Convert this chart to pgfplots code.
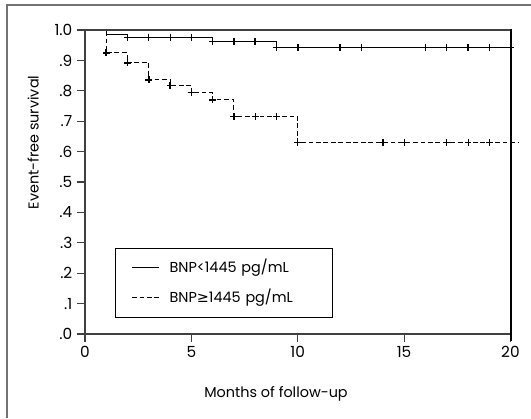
\documentclass[border=0pt]{standalone}
\usepackage{pgfplots}
\pgfplotsset{compat=1.18}
\usepackage{fontspec}
\setmainfont{Poppins}
\newfontfamily\symfont{DejaVu Sans}
\begin{document}
\begin{tikzpicture}[x=0.75pt,y=0.75pt]
\path[use as bounding box] (0,0) rectangle (531,418);
\draw[black!55, line width=1.3pt] (7,0) -- (7,413) -- (531,413);
\begin{axis}[name=ax, at={(63.75pt,63pt)}, anchor=south west, scale only axis,
  width=319.1pt, height=228pt, xmin=0, xmax=20, ymin=0, ymax=1, clip=false,
  axis line style={black!75, line width=0.8pt},
  xtick={0,5,10,15,20}, ytick={0,0.1,0.2,0.3,0.4,0.5,0.6,0.7,0.8,0.9,1},
  yticklabels={.0,.1,.2,.3,.4,.5,.6,.7,.8,.9,1.0},
  tick align=outside, xtick pos=bottom, ytick pos=left, major tick length=6pt,
  tick style={black!75, line width=0.8pt},
  tick label style={font=\fontsize{11.5}{13}\selectfont},
  /pgf/number format/assume math mode=true,
  xlabel={Months of follow-up}, ylabel={Event-free survival},
  label style={font=\fontsize{10.8}{12}\selectfont},
  xlabel style={at={(axis description cs:0.449,-0.197)}, anchor=center},
  ylabel style={at={(axis description cs:-0.122,0.630)}, anchor=center},
  legend cell align=left,
  legend style={at={(axis description cs:0.0705,0.282)}, anchor=north west,
    draw=black, line width=0.8pt, inner xsep=12pt, inner ysep=10.6pt, row sep=15pt,
    font=\fontsize{10.8}{12}\selectfont,
    nodes={inner sep=0pt, text height=7.5pt, text depth=0pt},
    /tikz/every odd column/.append style={column sep=7.5pt},
    /tikz/every even column/.append style={text width=110pt}},
  legend image code/.code={\draw[#1, line width=0.8pt] (0pt,0pt) -- (20.25pt,0pt);}]
\addplot[black, line width=0.8pt, const plot] coordinates {(0,1) (1,0.986) (2,0.976) (6,0.962) (9,0.942) (20,0.942)};
\addlegendentry{BNP<1445 pg/mL}
\addplot[black, line width=0.8pt, const plot, dash pattern=on 3.6pt off 2pt] coordinates {(0,1) (1,0.925) (2,0.892) (3,0.836) (4,0.817) (5,0.794) (6,0.770) (7,0.715) (10,0.630) (20.37,0.630)};
\addlegendentry{BNP{\symfont ≥}1445 pg/mL}
% censored cases
\addplot[black, only marks, mark=+, mark size=2.5pt, line width=0.6pt, forget plot] coordinates {(2,0.976) (3,0.976) (4,0.976) (5,0.976) (13,0.942) (16,0.942) (17,0.942) (19,0.942)};
\addplot[black, only marks, mark=+, mark size=2.6pt, line width=1.2pt, forget plot] coordinates {(6,0.962) (7,0.962) (8,0.962) (9,0.942) (10,0.942) (12,0.942) (18,0.942) (20,0.942)};
\addplot[black, only marks, mark=+, mark size=2.5pt, line width=0.6pt, forget plot] coordinates {(8,0.715) (9,0.715) (10,0.630) (15,0.630) (18,0.630) (19,0.630)};
\addplot[black, only marks, mark=+, mark size=2.6pt, line width=1.2pt, forget plot] coordinates {(1,0.925) (2,0.892) (3,0.836) (4,0.817) (5,0.794) (6,0.770) (7,0.715) (14,0.630) (17,0.630)};
\end{axis}
% top and right sides of the frame
\draw[black!75, line width=0.8pt] (85,388) -- (510.5,388);
\draw[black, line width=1.5pt] (510.5,388.5) -- (510.5,77);
\end{tikzpicture}
\end{document}
